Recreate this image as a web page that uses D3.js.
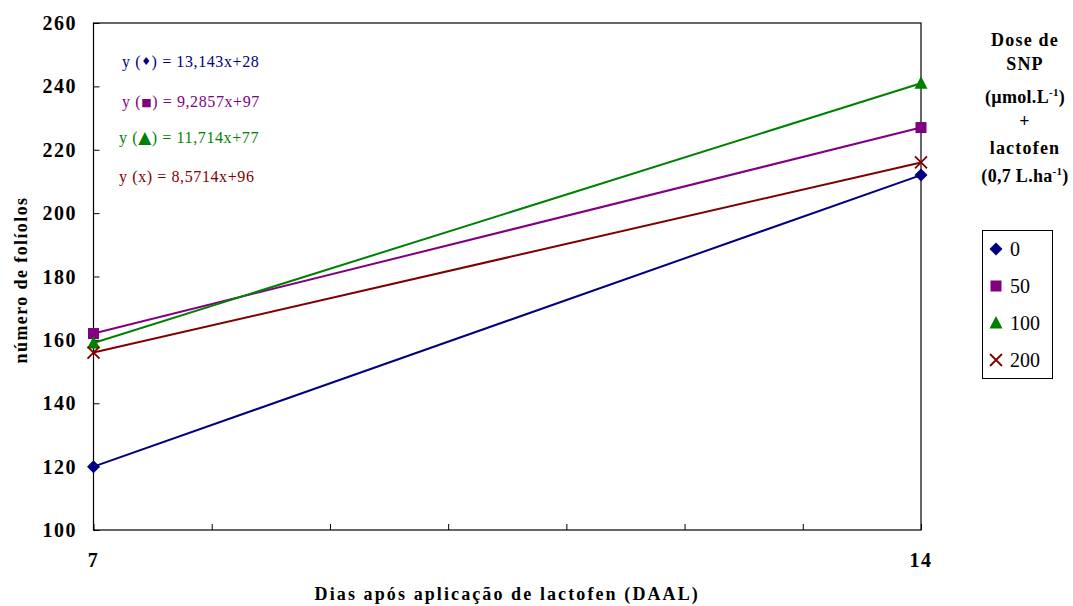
<!DOCTYPE html>
<html>
<head>
<meta charset="utf-8">
<script src="https://cdn.jsdelivr.net/npm/d3@7"></script>
<style>
  html, body { margin: 0; padding: 0; background: #fff; }
  svg text { font-family: "Liberation Serif", "Times New Roman", "DejaVu Serif", serif; }
</style>
</head>
<body>
<svg id="chart" width="1073" height="606"></svg>
<script>
// Days after lactofen application
const days = [7, 14];
// SNP doses (µmol/L) and number of leaflets per dose
const doses = ["0", "50", "100", "200"];
const leaflets0 = [120, 212];
const leaflets50 = [162, 227];
const leaflets100 = [159, 241];
const leaflets200 = [156, 216];
const seriesValues = [leaflets0, leaflets50, leaflets100, leaflets200];
const seriesColors = ["#000080", "#800080", "#008000", "#800000"];
const seriesShapes = ["diamond", "square", "triangle", "cross"];
const equations = [
  { sym: "\u2666", text: " = 13,143x+28" },
  { sym: "\u25A0", text: " = 9,2857x+97" },
  { sym: "\u25B2", text: " = 11,714x+77" },
  { sym: "x", text: " = 8,5714x+96" }
];
const yTicks = [100, 120, 140, 160, 180, 200, 220, 240, 260];
const xTickLabels = [7, 14];

const SERIF = "Liberation Serif, Times New Roman, DejaVu Serif, serif";
const svg = d3.select("#chart").attr("font-family", SERIF);
const m = { left: 93.5, right: 921, top: 23, bottom: 530 };

const x = d3.scaleLinear().domain([7, 14]).range([m.left, m.right]);
const y = d3.scaleLinear().domain([100, 260]).range([m.bottom, m.top]);

// plot frame
svg.append("rect")
  .attr("x", m.left).attr("y", m.top)
  .attr("width", m.right - m.left).attr("height", m.bottom - m.top)
  .attr("fill", "none").attr("stroke", "#000").attr("stroke-width", 1.2);

// y axis with inward ticks
const yAxis = svg.append("g")
  .attr("transform", `translate(${m.left},0)`)
  .call(d3.axisRight(y).tickValues(yTicks).tickSize(6).tickFormat(""));
yAxis.select(".domain").remove();
yAxis.selectAll("line").attr("stroke", "#000");

svg.append("g").selectAll("text").data(yTicks).join("text")
  .attr("x", 77).attr("y", d => y(d))
  .attr("dy", "0.35em")
  .attr("text-anchor", "end")
  .attr("font-size", 20).attr("font-weight", "bold")
  .attr("letter-spacing", 1.5)
  .text(d => d);

// x axis with inward ticks at every day
const xAxis = svg.append("g")
  .attr("transform", `translate(0,${m.bottom})`)
  .call(d3.axisTop(x).tickValues(d3.range(7, 15)).tickSize(6).tickFormat(""));
xAxis.select(".domain").remove();
xAxis.selectAll("line").attr("stroke", "#000");

svg.append("g").selectAll("text").data(xTickLabels).join("text")
  .attr("x", d => x(d)).attr("y", 567)
  .attr("text-anchor", "middle")
  .attr("font-size", 20).attr("font-weight", "bold")
  .attr("letter-spacing", 1.5)
  .text(d => d);

// axis titles
svg.append("text")
  .attr("x", (m.left + m.right) / 2).attr("y", 600)
  .attr("text-anchor", "middle")
  .attr("font-size", 18).attr("font-weight", "bold")
  .attr("letter-spacing", 2.1)
  .text("Dias após aplicação de lactofen (DAAL)");

svg.append("text")
  .attr("transform", "translate(27,280) rotate(-90)")
  .attr("text-anchor", "middle")
  .attr("font-size", 18).attr("font-weight", "bold")
  .attr("letter-spacing", 1.4)
  .text("número de folíolos");

// marker drawing
function drawMarker(g, shape, color, cx, cy) {
  if (shape === "diamond") {
    g.append("path").attr("d", `M${cx},${cy - 6.5}L${cx + 6.5},${cy}L${cx},${cy + 6.5}L${cx - 6.5},${cy}Z`)
      .attr("fill", color);
  } else if (shape === "square") {
    g.append("rect").attr("x", cx - 5.5).attr("y", cy - 5.5)
      .attr("width", 11).attr("height", 11).attr("fill", color);
  } else if (shape === "triangle") {
    g.append("path").attr("d", `M${cx},${cy - 7}L${cx + 6.5},${cy + 5.5}L${cx - 6.5},${cy + 5.5}Z`)
      .attr("fill", color);
  } else {
    g.append("path").attr("d", `M${cx - 6},${cy - 6}L${cx + 6},${cy + 6}M${cx + 6},${cy - 6}L${cx - 6},${cy + 6}`)
      .attr("stroke", color).attr("stroke-width", 1.8).attr("fill", "none");
  }
}

// series lines and markers
const line = d3.line().x((d, i) => x(days[i])).y(d => y(d));
seriesValues.forEach((vals, s) => {
  svg.append("path").datum(vals)
    .attr("d", line)
    .attr("fill", "none")
    .attr("stroke", seriesColors[s])
    .attr("stroke-width", 2);
});
seriesValues.forEach((vals, s) => {
  const g = svg.append("g");
  vals.forEach((v, i) => drawMarker(g, seriesShapes[s], seriesColors[s], x(days[i]), y(v)));
});

// regression equations
const eqY = [67, 107, 143, 182];
const eqX = [122, 122, 119, 119];
equations.forEach((e, i) => {
  const t = svg.append("text")
    .attr("x", eqX[i]).attr("y", eqY[i])
    .attr("font-size", 16)
    .attr("letter-spacing", 0.6)
    .attr("fill", seriesColors[i]);
  t.append("tspan").text("y (");
  t.append("tspan")
    .attr("font-size", i === 2 ? 17 : (i === 3 ? 16 : 11))
    .attr("font-family", i === 3 ? null : "DejaVu Sans")
    .attr("dy", i === 0 ? -2 : (i === 1 ? -1 : 0))
    .text(e.sym);
  t.append("tspan")
    .attr("dy", i === 0 ? 2 : (i === 1 ? 1 : 0))
    .text(")" + e.text);
});

// legend title
const titleLines = [
  { t: "Dose de", y: 46 },
  { t: "SNP", y: 70 },
  { t: null, y: 103 },
  { t: "+", y: 127 },
  { t: "lactofen", y: 154 },
  { t: null, y: 182 }
];
titleLines.forEach((l, i) => {
  const t = svg.append("text")
    .attr("x", 1025).attr("y", l.y)
    .attr("text-anchor", "middle")
    .attr("font-size", 18).attr("font-weight", "bold")
    .attr("letter-spacing", i === 2 || i === 5 ? 0.3 : 1.2);
  if (i === 2) {
    t.append("tspan").text("(µmol.L");
    t.append("tspan").attr("font-size", 11).attr("dy", -7).text("-1");
    t.append("tspan").attr("dy", 7).text(")");
  } else if (i === 5) {
    t.append("tspan").text("(0,7 L.ha");
    t.append("tspan").attr("font-size", 11).attr("dy", -7).text("-1");
    t.append("tspan").attr("dy", 7).text(")");
  } else {
    t.text(l.t);
  }
});

// legend box
svg.append("rect")
  .attr("x", 982.5).attr("y", 230.5)
  .attr("width", 70).attr("height", 148)
  .attr("fill", "#fff").attr("stroke", "#000").attr("stroke-width", 1);

const legY = d3.scalePoint().domain(doses).range([249, 360]);
doses.forEach((d, i) => {
  const g = svg.append("g");
  drawMarker(g, seriesShapes[i], seriesColors[i], 996, legY(d));
  svg.append("text")
    .attr("x", 1010).attr("y", legY(d))
    .attr("dy", "0.35em")
    .attr("font-size", 20)
    .text(d);
});
</script>
</body>
</html>
